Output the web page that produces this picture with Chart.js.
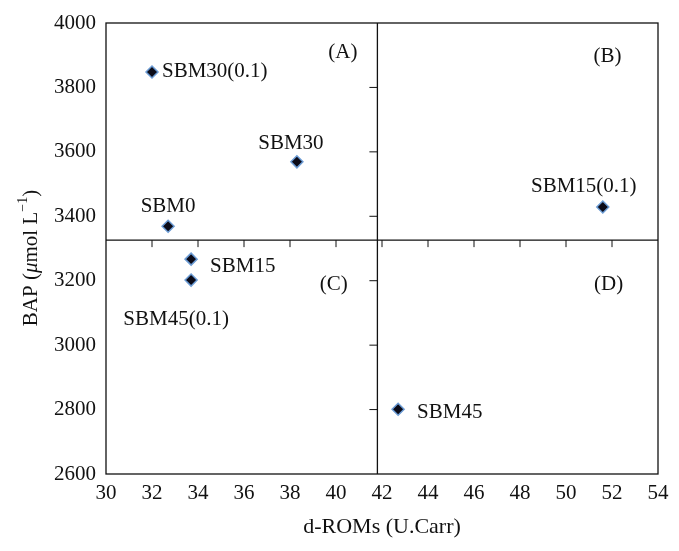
<!DOCTYPE html>
<html>
<head>
<meta charset="utf-8">
<script src="https://cdn.jsdelivr.net/npm/chart.js@4"></script>
<style>
  html, body { margin: 0; padding: 0; background: #fff; }
  #wrap { width: 679px; height: 551px; }
</style>
</head>
<body>
<div id="wrap"><canvas id="chart"></canvas></div>
<script>
// values
const sampleNames = ['SBM30(0.1)', 'SBM30', 'SBM0', 'SBM15', 'SBM45(0.1)', 'SBM15(0.1)', 'SBM45'];
const dRoms = [32.0, 38.3, 32.7, 33.7, 33.7, 51.6, 42.7];
const bap = [3848, 3569, 3369, 3267, 3202, 3429, 2801];

const quadrantNames = ['(A)', '(B)', '(C)', '(D)'];
const quadrantX = [40.3, 51.8, 39.9, 51.85];
const quadrantY = [3910, 3897, 3189, 3187];

const xCross = 41.8;
const yCross = 3326;

// label placement relative to each point (px): dx, dy, align
const labelPlace = [
  [10, 0, 'left'], [-6, -18, 'center'], [0, -20, 'center'], [19, 7, 'left'],
  [-15, 39, 'center'], [-19, -20, 'center'], [19, 3, 'left']
];

const FONT = '"Liberation Serif", "Times New Roman", serif';

const quadPlugin = {
  id: 'quadPlugin',
  beforeDatasetsDraw(chart) {
    const { ctx, chartArea: a, scales: { x, y } } = chart;
    const cx = x.getPixelForValue(xCross);
    const cy = y.getPixelForValue(yCross);
    ctx.save();
    ctx.strokeStyle = '#111';
    ctx.lineWidth = 1.3;
    ctx.strokeRect(a.left, a.top, a.right - a.left, a.bottom - a.top);
    ctx.beginPath();
    ctx.moveTo(cx, a.top); ctx.lineTo(cx, a.bottom);
    ctx.moveTo(a.left, cy); ctx.lineTo(a.right, cy);
    ctx.stroke();
    // ticks on the cross lines
    ctx.lineWidth = 1;
    ctx.beginPath();
    x.ticks.forEach(t => {
      const px = x.getPixelForValue(t.value);
      if (px <= a.left + 1 || px >= a.right - 1) return;
      ctx.moveTo(px, cy); ctx.lineTo(px, cy + 7);
    });
    y.ticks.forEach(t => {
      const py = y.getPixelForValue(t.value);
      if (py <= a.top + 1 || py >= a.bottom - 1) return;
      ctx.moveTo(cx, py); ctx.lineTo(cx - 8, py);
    });
    ctx.stroke();
    ctx.restore();
  },
  afterDatasetsDraw(chart) {
    const { ctx, scales: { x, y } } = chart;
    ctx.save();
    ctx.fillStyle = '#111';
    ctx.font = '21px ' + FONT;
    ctx.textBaseline = 'middle';
    const meta = chart.getDatasetMeta(0);
    meta.data.forEach((pt, i) => {
      const [dx, dy, align] = labelPlace[i];
      ctx.textAlign = align;
      ctx.fillText(sampleNames[i], pt.x + dx, pt.y + dy);
    });
    ctx.textAlign = 'center';
    quadrantNames.forEach((n, i) => {
      ctx.fillText(n, x.getPixelForValue(quadrantX[i]), y.getPixelForValue(quadrantY[i]));
    });

    // y axis title with italic mu and superscript
    const parts = [
      ['BAP (', '21px ' + FONT, 0],
      ['\u03bc', 'italic 21px ' + FONT, 0],
      ['mol L', '21px ' + FONT, 0],
      ['\u22121', '14px ' + FONT, -8],
      [')', '21px ' + FONT, 0]
    ];
    let total = 0;
    parts.forEach(p => { ctx.font = p[1]; total += ctx.measureText(p[0]).width; });
    ctx.translate(31, 258);
    ctx.rotate(-Math.PI / 2);
    ctx.textAlign = 'left';
    let pos = -total / 2;
    parts.forEach(p => {
      ctx.font = p[1];
      ctx.fillText(p[0], pos, p[2]);
      pos += ctx.measureText(p[0]).width;
    });
    ctx.restore();
  }
};

new Chart(document.getElementById('chart'), {
  type: 'scatter',
  data: {
    datasets: [{
      data: dRoms.map((v, i) => ({ x: v, y: bap[i] })),
      pointStyle: 'rectRot',
      pointRadius: 6,
      pointHoverRadius: 6,
      backgroundColor: '#0b0b18',
      borderColor: '#6b9bd4',
      borderWidth: 1.5
    }]
  },
  options: {
    responsive: true,
    maintainAspectRatio: false,
    animation: false,
    events: [],
    layout: { padding: { top: 23, right: 21, left: 0, bottom: 0 } },
    plugins: { legend: { display: false }, tooltip: { enabled: false } },
    scales: {
      x: {
        type: 'linear', min: 30, max: 54,
        afterFit: s => { s.height = 77; },
        grid: { display: false, drawTicks: false },
        border: { display: false },
        ticks: { stepSize: 2, padding: 7, color: '#111', font: { family: FONT, size: 21 } },
        title: {
          display: true, text: 'd-ROMs (U.Carr)', color: '#111',
          font: { family: FONT, size: 22 }, padding: { top: 0, bottom: 11 }
        }
      },
      y: {
        type: 'linear', min: 2600, max: 4000,
        afterFit: s => { s.width = 106; },
        grid: { display: false, drawTicks: false },
        border: { display: false },
        ticks: {
          stepSize: 200, padding: 10, color: '#111', font: { family: FONT, size: 21 },
          callback: v => String(v)
        }
      }
    }
  },
  plugins: [quadPlugin]
});
</script>
</body>
</html>
